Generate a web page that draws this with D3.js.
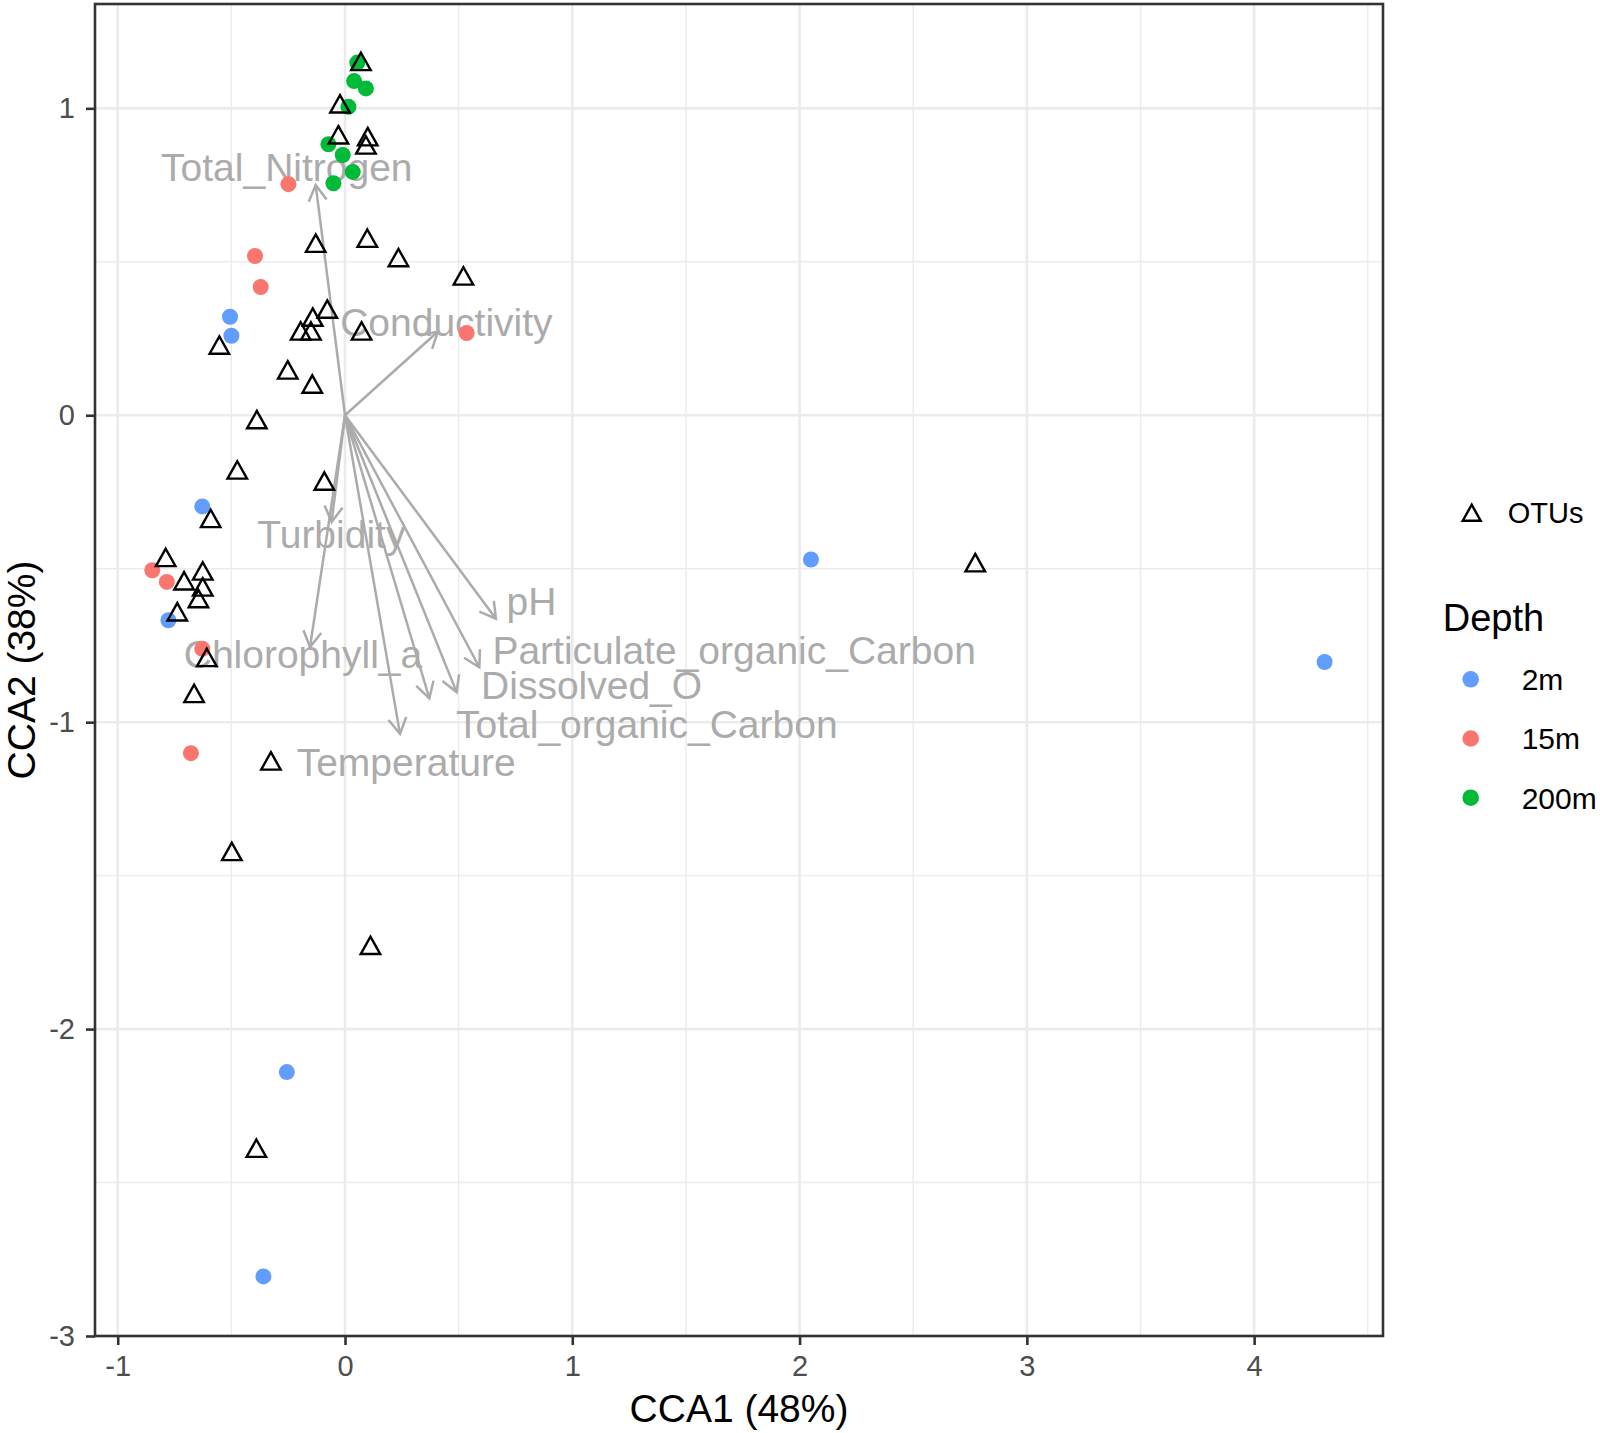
<!DOCTYPE html>
<html>
<head>
<meta charset="utf-8">
<script src="https://cdn.jsdelivr.net/npm/d3@7"></script>
<style>
  html, body { margin: 0; padding: 0; background: #ffffff; }
  svg { display: block; font-family: "Liberation Sans", Arial, Helvetica, sans-serif; }
</style>
</head>
<body>
<svg id="chart" width="1600" height="1433"></svg>
<script>
// ---------------- DATA ----------------
const depthLevels = ["2m", "15m", "200m"];
const depthColors = ["#619CFF", "#F8766D", "#00BA38"];

const siteDepth = [
  "2m","2m","2m","2m","2m","2m","2m","2m",
  "15m","15m","15m","15m","15m","15m","15m","15m",
  "200m","200m","200m","200m","200m","200m","200m","200m"
];
const siteCCA1 = [
  -0.506, -0.500, -0.628, -0.777, 2.050, 4.310, -0.256, -0.359,
  -0.249, -0.396, -0.371, 0.535, -0.848, -0.784, -0.628, -0.678,
  0.054, 0.040, 0.092, 0.015, -0.073, -0.010, 0.034, -0.051
];
const siteCCA2 = [
  0.321, 0.259, -0.297, -0.668, -0.470, -0.804, -2.140, -2.806,
  0.753, 0.519, 0.418, 0.268, -0.505, -0.543, -0.761, -1.101,
  1.149, 1.089, 1.065, 1.005, 0.883, 0.848, 0.793, 0.756
];

const otuCCA1 = [
  0.070, -0.022, -0.029, 0.100, 0.092,
  -0.129, 0.098, 0.235, 0.521,
  -0.078, -0.142, -0.195, -0.150, 0.073,
  -0.553, -0.252, -0.144, -0.388,
  -0.474, -0.091, -0.591,
  -0.789, -0.626, -0.708, -0.626, -0.645, -0.738,
  -0.608, -0.664, -0.326, -0.498, 0.112, -0.390, 2.773
];
const otuCCA2 = [
  1.152, 1.014, 0.913, 0.907, 0.880,
  0.560, 0.576, 0.513, 0.453,
  0.345, 0.319, 0.274, 0.274, 0.274,
  0.228, 0.147, 0.101, -0.015,
  -0.179, -0.215, -0.337,
  -0.464, -0.508, -0.540, -0.560, -0.598, -0.641,
  -0.790, -0.907, -1.127, -1.422, -1.728, -2.389, -0.481
];

const envNames = [
  "Total_Nitrogen", "Conductivity", "Turbidity", "Chlorophyll_a", "pH",
  "Particulate_organic_Carbon", "Dissolved_O", "Total_organic_Carbon", "Temperature"
];
const envCCA1 = [-0.129, 0.408, -0.059, -0.154, 0.664, 0.591, 0.491, 0.371, 0.242];
const envCCA2 = [0.750, 0.272, -0.348, -0.755, -0.663, -0.821, -0.902, -0.922, -1.038];
const envLabelCCA1 = [-0.256, 0.446, -0.060, -0.185, 0.820, 1.712, 1.085, 1.328, 0.269];
const envLabelCCA2 = [0.809, 0.304, -0.388, -0.778, -0.606, -0.765, -0.880, -1.007, -1.131];

const xTicks = [-1, 0, 1, 2, 3, 4];
const yTicks = [-3, -2, -1, 0, 1];
const xMinor = [-0.5, 0.5, 1.5, 2.5, 3.5, 4.5];
const yMinor = [-2.5, -1.5, -0.5, 0.5];
const xTitle = "CCA1 (48%)";
const yTitle = "CCA2 (38%)";
const otuLegendLabel = "OTUs";
const depthLegendTitle = "Depth";

// ---------------- LAYOUT ----------------
const svg = d3.select("#chart");
const panel = { left: 95, right: 1383, top: 4, bottom: 1336 };

const x = d3.scaleLinear().domain([-1.10, 4.567]).range([panel.left, panel.right]);
const y = d3.scaleLinear().domain([-3.0, 1.340]).range([panel.bottom, panel.top]);
const color = d3.scaleOrdinal().domain(depthLevels).range(depthColors);

svg.append("rect").attr("width", 1600).attr("height", 1433).attr("fill", "#ffffff");

// grid
const grid = svg.append("g");
grid.selectAll(".xmin").data(xMinor).join("line")
  .attr("x1", d => x(d)).attr("x2", d => x(d))
  .attr("y1", panel.top).attr("y2", panel.bottom)
  .attr("stroke", "#ebebeb").attr("stroke-width", 1.4);
grid.selectAll(".ymin").data(yMinor).join("line")
  .attr("y1", d => y(d)).attr("y2", d => y(d))
  .attr("x1", panel.left).attr("x2", panel.right)
  .attr("stroke", "#ebebeb").attr("stroke-width", 1.4);
grid.selectAll(".xmaj").data(xTicks).join("line")
  .attr("x1", d => x(d)).attr("x2", d => x(d))
  .attr("y1", panel.top).attr("y2", panel.bottom)
  .attr("stroke", "#ebebeb").attr("stroke-width", 2.6);
grid.selectAll(".ymaj").data(yTicks).join("line")
  .attr("y1", d => y(d)).attr("y2", d => y(d))
  .attr("x1", panel.left).attr("x2", panel.right)
  .attr("stroke", "#ebebeb").attr("stroke-width", 2.6);

// env arrows
const envColor = "#ababab";
const arrows = svg.append("g");
envNames.forEach((name, i) => {
  const x0 = x(0), y0 = y(0);
  const x1 = x(envCCA1[i]), y1 = y(envCCA2[i]);
  arrows.append("line")
    .attr("x1", x0).attr("y1", y0).attr("x2", x1).attr("y2", y1)
    .attr("stroke", envColor).attr("stroke-width", 2.5);
  const ang = Math.atan2(y1 - y0, x1 - x0);
  const L = 18, a = Math.PI / 6;
  const p1 = [x1 - L * Math.cos(ang - a), y1 - L * Math.sin(ang - a)];
  const p2 = [x1 - L * Math.cos(ang + a), y1 - L * Math.sin(ang + a)];
  arrows.append("path")
    .attr("d", `M${p1[0]},${p1[1]}L${x1},${y1}L${p2[0]},${p2[1]}`)
    .attr("fill", "none").attr("stroke", envColor).attr("stroke-width", 2.5)
    .attr("stroke-linejoin", "miter");
});
arrows.selectAll("text").data(envNames).join("text")
  .attr("x", (d, i) => x(envLabelCCA1[i]))
  .attr("y", (d, i) => y(envLabelCCA2[i]))
  .attr("dy", "0.36em")
  .attr("text-anchor", "middle")
  .attr("font-size", 39)
  .attr("fill", envColor)
  .text(d => d);

// sites
const sites = siteCCA1.map((v, i) => ({ x: v, y: siteCCA2[i], depth: siteDepth[i] }));
svg.append("g").selectAll("circle").data(sites).join("circle")
  .attr("cx", d => x(d.x)).attr("cy", d => y(d.y)).attr("r", 8)
  .attr("fill", d => color(d.depth));

// OTUs (open triangles)
function tri(cx, cy, s) {
  const h = s * 0.866;
  return `M${cx},${cy - h / 2 - 0.5}L${cx + s / 2},${cy + h / 2}L${cx - s / 2},${cy + h / 2}Z`;
}
const otus = otuCCA1.map((v, i) => ({ x: v, y: otuCCA2[i] }));
svg.append("g").selectAll("path").data(otus).join("path")
  .attr("d", d => tri(x(d.x), y(d.y), 19.5))
  .attr("fill", "none").attr("stroke", "#000").attr("stroke-width", 2.4)
  .attr("stroke-linejoin", "miter");

// panel border
svg.append("rect")
  .attr("x", panel.left).attr("y", panel.top)
  .attr("width", panel.right - panel.left).attr("height", panel.bottom - panel.top)
  .attr("fill", "none").attr("stroke", "#333333").attr("stroke-width", 2.6);

// axes
const xAxis = svg.append("g").attr("transform", `translate(0,${panel.bottom})`)
  .call(d3.axisBottom(x).tickValues(xTicks).tickSize(9).tickPadding(10).tickFormat(d3.format("d")));
const yAxis = svg.append("g").attr("transform", `translate(${panel.left},0)`)
  .call(d3.axisLeft(y).tickValues(yTicks).tickSize(9).tickPadding(11).tickFormat(d3.format("d")));
[xAxis, yAxis].forEach(g => {
  g.select(".domain").remove();
  g.selectAll(".tick line").attr("stroke", "#333333").attr("stroke-width", 2.6);
  g.selectAll(".tick text").attr("fill", "#4d4d4d").attr("font-size", 29)
    .attr("font-family", "'Liberation Sans', Arial, Helvetica, sans-serif");
});
xAxis.selectAll(".tick text").text(d => d < 0 ? "-" + Math.abs(d) : d);
yAxis.selectAll(".tick text").text(d => d < 0 ? "-" + Math.abs(d) : d);

// axis titles
svg.append("text")
  .attr("x", (panel.left + panel.right) / 2).attr("y", 1408)
  .attr("dy", "0.36em").attr("text-anchor", "middle")
  .attr("font-size", 39).attr("fill", "#000").text(xTitle);
svg.append("text")
  .attr("transform", `translate(21,${(panel.top + panel.bottom) / 2}) rotate(-90)`)
  .attr("dy", "0.36em").attr("text-anchor", "middle")
  .attr("font-size", 39).attr("fill", "#000").text(yTitle);

// legend
const lg = svg.append("g");
lg.append("path").attr("d", tri(1471.7, 513, 18))
  .attr("fill", "none").attr("stroke", "#000").attr("stroke-width", 2.4);
lg.append("text").attr("x", 1507.7).attr("y", 513).attr("dy", "0.36em")
  .attr("font-size", 29).attr("fill", "#000").text(otuLegendLabel);
lg.append("text").attr("x", 1442.7).attr("y", 617.5).attr("dy", "0.36em")
  .attr("font-size", 38).attr("fill", "#000").text(depthLegendTitle);
const legendY = d3.scalePoint().domain(depthLevels).range([679.3, 797.7]);
lg.selectAll("circle").data(depthLevels).join("circle")
  .attr("cx", 1470.7).attr("cy", d => legendY(d)).attr("r", 8.3)
  .attr("fill", d => color(d));
lg.selectAll(".lbl").data(depthLevels).join("text")
  .attr("x", 1521.7).attr("y", d => legendY(d)).attr("dy", "0.36em")
  .attr("font-size", 30).attr("fill", "#000").text(d => d);
</script>
</body>
</html>
